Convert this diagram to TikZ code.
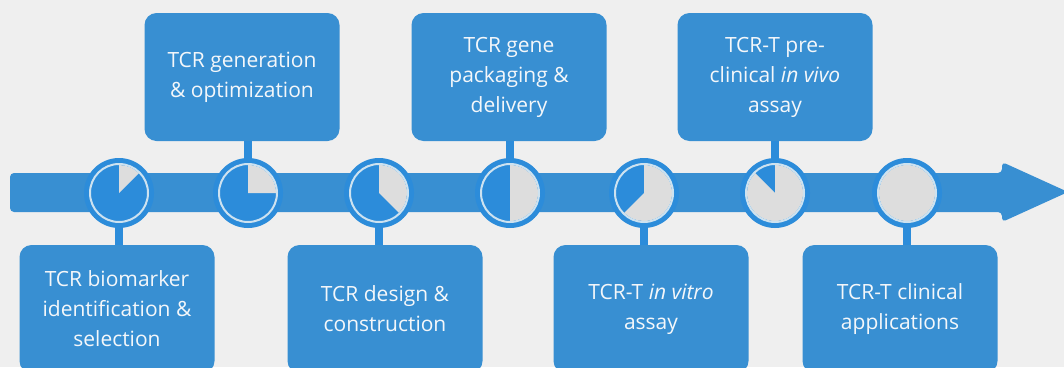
\documentclass[tikz,border=0pt]{standalone}
\usepackage{fontspec}
\newfontfamily\boxfont{Open Sans}
\usepackage{tikz}
\usetikzlibrary{calc}

\definecolor{bggray}{RGB}{239,239,239}
\definecolor{tcrblue}{RGB}{56,143,210}
\definecolor{dialblue}{RGB}{44,140,218}
\definecolor{pielight}{RGB}{221,221,221}
\definecolor{ringlight}{RGB}{205,226,240}
\definecolor{textwhite}{RGB}{244,247,250}

\begin{document}
\begin{tikzpicture}
      [x = 1pt, y = -1pt,
      box/.style= {
         fill = tcrblue,
         rounded corners = 12pt,
         minimum width = 195pt,
         minimum height = 128pt,
         inner sep = 0pt,
         align = center,
         text = textwhite,
         font = \boxfont\fontsize{21}{30}\selectfont
      },
      dial/.style= {
         fill = dialblue,
         circle,
         inner sep = 0pt,
         minimum size = 70pt
      },
      stem/.style = {draw = dialblue, line width = 8pt},
      ring/.style = {draw = ringlight, line width = 2pt},
      pie/.style = {fill = pielight}]

      \useasboundingbox (0, 0) rectangle (1064, 367);
      \fill[bggray] (0, 0) rectangle (1064, 367);

      \fill[tcrblue, rounded corners = 4pt] (10, 173) -- (1002, 173) -- (1002, 162)
         -- (1068, 192) -- (1002, 222) -- (1002, 212) -- (10, 212) -- cycle;

      \node[box] (b1) at (117, 309) {TCR biomarker\\identification \&\\selection};
      \node[box] (b2) at (242, 77) {TCR generation\\\& optimization};
      \node[box] (b3) at (385, 309) {TCR design \&\\construction};
      \node[box] (b4) at (509, 77) {TCR gene\\packaging \&\\delivery};
      \node[box] (b5) at (651, 309) {TCR-T \textit{in vitro}\\assay};
      \node[box] (b6) at (775, 77) {TCR-T pre-\\clinical \textit{in vivo}\\assay};
      \node[box] (b7) at (900, 309) {TCR-T clinical\\applications};

      \coordinate (p1) at (119, 193);
      \coordinate (p2) at (248, 193);
      \coordinate (p3) at (379, 193);
      \coordinate (p4) at (510, 193);
      \coordinate (p5) at (644, 193);
      \coordinate (p6) at (775, 193);
      \coordinate (p7) at (907, 193);

      \draw[stem] (p1) -- (p1 |- b1.north);
      \draw[stem] (p2) -- (p2 |- b2.south);
      \draw[stem] (p3) -- (p3 |- b3.north);
      \draw[stem] (p4) -- (p4 |- b4.south);
      \draw[stem] (p5) -- (p5 |- b5.north);
      \draw[stem] (p6) -- (p6 |- b6.south);
      \draw[stem] (p7) -- (p7 |- b7.north);

      \node[dial] (c1) at (p1) {};
      \node[dial] (c2) at (p2) {};
      \node[dial] (c3) at (p3) {};
      \node[dial] (c4) at (p4) {};
      \node[dial] (c5) at (p5) {};
      \node[dial] (c6) at (p6) {};
      \node[dial] (c7) at (p7) {};

      \fill[pie] (c1.center) -- ++(-90:28) arc[start angle = -90, end angle = -45, radius = 28] -- cycle;
      \fill[pie] (c2.center) -- ++(-90:28) arc[start angle = -90, end angle = 0, radius = 28] -- cycle;
      \fill[pie] (c3.center) -- ++(-90:28) arc[start angle = -90, end angle = 45, radius = 28] -- cycle;
      \fill[pie] (c4.center) -- ++(-90:28) arc[start angle = -90, end angle = 90, radius = 28] -- cycle;
      \fill[pie] (c5.center) -- ++(-90:28) arc[start angle = -90, end angle = 135, radius = 28] -- cycle;
      \fill[pie] (c6.center) -- ++(-90:28) arc[start angle = -90, end angle = 225, radius = 28] -- cycle;
      \fill[pie] (c7.center) circle[radius = 28];

      \draw[ring] (c1.center) circle[radius = 29];
      \draw[ring] (c2.center) circle[radius = 29];
      \draw[ring] (c3.center) circle[radius = 29];
      \draw[ring] (c4.center) circle[radius = 29];
      \draw[ring] (c5.center) circle[radius = 29];
      \draw[ring] (c6.center) circle[radius = 29];
      \draw[ring] (c7.center) circle[radius = 29];

   \end{tikzpicture}
\end{document}
